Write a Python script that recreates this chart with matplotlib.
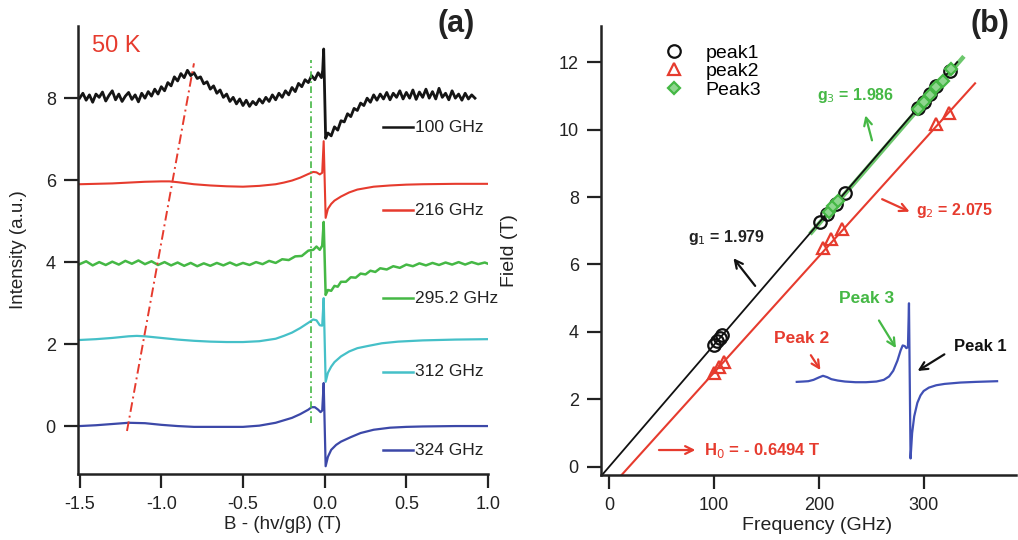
import matplotlib
matplotlib.use("Agg")
import matplotlib.pyplot as plt
import numpy as np

plt.rcParams['font.family'] = ['Liberation Sans', 'DejaVu Sans']

# ---------------- Panel (a) data: EPR spectra at 50 K ----------------
x100 = [-1.50, -1.48, -1.46, -1.44, -1.42, -1.40, -1.38, -1.36, -1.34, -1.32, -1.30, -1.28, -1.26, -1.24,
        -1.22, -1.20, -1.18, -1.16, -1.14, -1.12, -1.10, -1.08, -1.06, -1.04, -1.02, -1.00, -0.98, -0.96,
        -0.94, -0.92, -0.90, -0.88, -0.86, -0.84, -0.82, -0.80, -0.78, -0.76, -0.74, -0.72, -0.70, -0.68,
        -0.66, -0.64, -0.62, -0.60, -0.58, -0.56, -0.54, -0.52, -0.50, -0.48, -0.46, -0.44, -0.42, -0.40,
        -0.38, -0.36, -0.34, -0.32, -0.30, -0.28, -0.26, -0.24, -0.22, -0.20, -0.18, -0.16, -0.14, -0.12,
        -0.10, -0.08, -0.06, -0.04, -0.02, -0.012, -0.006, 0.006, 0.02, 0.04, 0.06, 0.08, 0.10, 0.12,
        0.14, 0.16, 0.18, 0.20, 0.22, 0.24, 0.26, 0.28, 0.30, 0.32, 0.34, 0.36, 0.38, 0.40, 0.42, 0.44,
        0.46, 0.48, 0.50, 0.52, 0.54, 0.56, 0.58, 0.60, 0.62, 0.64, 0.66, 0.68, 0.70, 0.72, 0.74, 0.76,
        0.78, 0.80, 0.82, 0.84, 0.86, 0.88, 0.90, 0.92]
y100 = [8.00, 8.12, 7.95, 8.08, 7.90, 8.10, 8.02, 8.15, 7.93, 8.07, 8.18, 7.96, 8.10, 7.92,
        8.05, 8.14, 7.97, 8.08, 7.91, 8.12, 8.00, 8.16, 8.05, 8.22, 8.10, 8.28, 8.18, 8.38,
        8.30, 8.52, 8.42, 8.60, 8.50, 8.68, 8.55, 8.62, 8.48, 8.52, 8.35, 8.40, 8.22, 8.30,
        8.12, 8.20, 8.02, 8.10, 7.92, 8.02, 7.86, 7.98, 7.82, 7.95, 7.80, 7.92, 7.84, 7.98,
        7.88, 8.02, 7.92, 8.08, 7.96, 8.12, 8.02, 8.18, 8.08, 8.26, 8.16, 8.36, 8.28, 8.45,
        8.38, 8.55, 8.45, 8.62, 8.50, 8.68, 9.20, 7.02, 7.15, 7.08, 7.30, 7.22, 7.45, 7.42,
        7.62, 7.55, 7.75, 7.70, 7.88, 7.82, 8.00, 7.90, 8.08, 7.95, 8.10, 7.98, 8.14, 7.96, 8.12, 8.02,
        8.18, 7.98, 8.14, 8.00, 8.20, 7.97, 8.15, 8.02, 8.22, 8.00, 8.16, 7.98, 8.24, 8.02, 8.12, 7.96,
        8.18, 8.00, 8.10, 7.95, 8.12, 7.98, 8.08, 8.00]

x216 = [-1.5, -1.4, -1.3, -1.2, -1.1, -1.0, -0.95, -0.9, -0.8, -0.7, -0.6, -0.5, -0.4, -0.3, -0.25,
        -0.2, -0.15, -0.1, -0.07, -0.05, -0.03, -0.015, -0.006, 0.006, 0.02, 0.04, 0.06, 0.1, 0.15,
        0.2, 0.3, 0.4, 0.5, 0.6, 0.8, 1.0]
y216 = [5.90, 5.91, 5.92, 5.94, 5.96, 5.97, 5.97, 5.95, 5.90, 5.87, 5.85, 5.84, 5.86, 5.90, 5.94,
        5.99, 6.06, 6.15, 6.20, 6.19, 6.14, 6.18, 6.95, 5.08, 5.30, 5.42, 5.50, 5.60, 5.70,
        5.77, 5.84, 5.87, 5.89, 5.90, 5.91, 5.91]

x295 = [-1.50, -1.46, -1.42, -1.38, -1.34, -1.30, -1.26, -1.22, -1.18, -1.14, -1.10, -1.06, -1.02,
        -0.98, -0.94, -0.90, -0.86, -0.82, -0.78, -0.74, -0.70, -0.66, -0.62, -0.58, -0.54, -0.50,
        -0.46, -0.42, -0.38, -0.34, -0.30, -0.26, -0.22, -0.18, -0.14, -0.10, -0.07, -0.05, -0.03,
        -0.015, -0.006, 0.006, 0.02, 0.04, 0.06, 0.08, 0.10, 0.13, 0.16, 0.19, 0.22, 0.25, 0.28,
        0.31, 0.34, 0.38, 0.42, 0.46, 0.50, 0.54, 0.58, 0.62, 0.66, 0.70, 0.74, 0.78, 0.82, 0.86,
        0.90, 0.94, 0.98, 1.00]
y295 = [3.95, 4.02, 3.92, 4.00, 3.93, 4.01, 3.94, 4.03, 3.96, 4.04, 3.95, 4.02, 3.93,
        4.00, 3.92, 3.99, 3.91, 3.98, 3.90, 3.97, 3.91, 3.98, 3.92, 3.99, 3.92, 3.98,
        3.93, 4.00, 3.95, 4.03, 3.98, 4.07, 4.05, 4.14, 4.15, 4.28, 4.30, 4.38, 4.30,
        4.40, 4.98, 3.20, 3.32, 3.30, 3.42, 3.40, 3.52, 3.52, 3.63, 3.62, 3.72, 3.70, 3.79,
        3.76, 3.85, 3.82, 3.90, 3.86, 3.94, 3.90, 3.97, 3.92, 3.98, 3.93, 3.99, 3.94, 4.00, 3.94,
        4.00, 3.95, 3.99, 3.96]

x312 = [-1.5, -1.4, -1.3, -1.2, -1.15, -1.1, -1.0, -0.9, -0.8, -0.7, -0.6, -0.5, -0.4, -0.3, -0.25,
        -0.2, -0.15, -0.1, -0.07, -0.05, -0.03, -0.015, -0.006, 0.006, 0.02, 0.04, 0.06, 0.1, 0.15,
        0.2, 0.26, 0.35, 0.45, 0.6, 0.8, 1.0]
y312 = [2.10, 2.12, 2.15, 2.19, 2.20, 2.19, 2.15, 2.11, 2.08, 2.06, 2.05, 2.05, 2.07, 2.13, 2.20,
        2.28, 2.39, 2.52, 2.60, 2.58, 2.46, 2.45, 3.12, 1.08, 1.30, 1.45, 1.56, 1.70, 1.82,
        1.90, 1.95, 2.02, 2.06, 2.09, 2.11, 2.12]

x324 = [-1.5, -1.4, -1.3, -1.2, -1.1, -1.0, -0.9, -0.8, -0.7, -0.6, -0.5, -0.4, -0.3, -0.25, -0.2,
        -0.15, -0.1, -0.08, -0.06, -0.04, -0.025, -0.015, -0.006, 0.006, 0.02, 0.04, 0.07, 0.1, 0.16,
        0.22, 0.3, 0.4, 0.5, 0.6, 0.8, 1.0]
y324 = [0.00, 0.02, 0.05, 0.08, 0.07, 0.03, 0.00, -0.02, -0.02, -0.02, -0.02, 0.01, 0.08, 0.14, 0.20,
        0.29, 0.40, 0.46, 0.46, 0.40, 0.34, 0.38, 1.05, -0.98, -0.75, -0.58, -0.46, -0.38, -0.27,
        -0.17, -0.09, -0.04, -0.02, -0.01, 0.00, 0.00]

spectra_labels = ["100 GHz", "216 GHz", "295.2 GHz", "312 GHz", "324 GHz"]
spectra_colors = ["#151515", "#e63b2e", "#45b845", "#45c0c8", "#3c48a8"]
label_y = [7.29, 5.27, 3.12, 1.32, -0.59]

# guide lines (a)
red_guide_x = [-1.21, -0.80]
red_guide_y = [-0.12, 8.85]
green_guide_x = [-0.085, -0.085]
green_guide_y = [0.07, 8.93]

# ---------------- Panel (b) data: frequency vs field ----------------
p1_f = [100, 103, 106, 108, 201, 208, 216, 225, 295, 300, 306, 312, 325]
p1_B = [3.61, 3.72, 3.83, 3.92, 7.26, 7.51, 7.80, 8.12, 10.65, 10.83, 11.05, 11.28, 11.75]
p2_f = [100, 105, 110, 204, 212, 222, 312, 324]
p2_B = [2.79, 2.97, 3.12, 6.48, 6.76, 7.04, 10.15, 10.50]
p3_f = [210, 214, 218, 295, 300, 306, 312, 318, 326]
p3_B = [7.55, 7.72, 7.88, 10.62, 10.82, 11.02, 11.25, 11.45, 11.78]

fit1_f = [-8, 332]
fit1_B = [-0.29, 12.0]
fit2_f = [12, 349]
fit2_B = [-0.24, 11.37]
fit3_f = [193, 337]
fit3_B = [6.95, 12.12]

inset_f = [179, 185, 190, 195, 200, 204, 208, 212, 218, 225, 235, 245, 255, 262, 267, 271, 275, 278,
           280, 282, 283.5, 285, 286, 287.5, 289, 291, 294, 297, 300, 305, 312, 320, 335, 350, 370]
inset_B = [2.52, 2.53, 2.54, 2.58, 2.65, 2.70, 2.66, 2.60, 2.56, 2.53, 2.51, 2.51, 2.53, 2.58, 2.68,
           2.85, 3.15, 3.45, 3.60, 3.58, 3.52, 3.55, 4.85, 0.25, 1.00, 1.50, 1.90, 2.12, 2.25, 2.35,
           2.42, 2.46, 2.50, 2.52, 2.54]

# ---------------- Figure ----------------
fig = plt.figure(figsize=(10.18, 5.4), dpi=100)
axa = fig.add_axes([0.0766, 0.1222, 0.4028, 0.8296])
axb = fig.add_axes([0.5904, 0.1204, 0.4076, 0.8315])

RED = "#e63b2e"
GREEN = "#45b845"
DARK = "#222222"

def style(ax):
    for s in ['top', 'right']:
        ax.spines[s].set_visible(False)
    for s in ['left', 'bottom']:
        ax.spines[s].set_linewidth(1.8)
        ax.spines[s].set_color(DARK)
    ax.tick_params(direction='out', length=10, width=1.6, labelsize=13, colors=DARK, pad=6)

# ---- panel (a)
style(axa)
xs = [x100, x216, x295, x312, x324]
ys = [y100, y216, y295, y312, y324]
lws = [2.0, 1.5, 1.8, 1.6, 1.6]
for x, y, c, lw in zip(xs, ys, spectra_colors, lws):
    axa.plot(x, y, color=c, lw=lw)
axa.plot(red_guide_x, red_guide_y, color=RED, lw=1.4, ls=(0, (5, 2, 1, 2)))
axa.plot(green_guide_x, green_guide_y, color=GREEN, lw=1.2, ls=(0, (4, 2, 1, 2)))
for lab, c, yl in zip(spectra_labels, spectra_colors, label_y):
    axa.plot([0.355, 0.54], [yl, yl], color=c, lw=1.8)
    axa.text(0.55, yl, lab, color=DARK, fontsize=12.5, va='center', ha='left')
axa.set_xlim(-1.51, 1.0)
axa.set_ylim(-1.17, 9.76)
axa.set_xticks([-1.5, -1.0, -0.5, 0.0, 0.5, 1.0])
axa.set_xticklabels(["-1.5", "-1.0", "-0.5", "0.0", "0.5", "1.0"])
axa.set_yticks([0, 2, 4, 6, 8])
axa.set_xlabel("B - (hv/gβ) (T)", fontsize=13.5, color=DARK)
axa.xaxis.set_label_coords(0.5, -0.094)
axa.set_ylabel("Intensity (a.u.)", fontsize=13.5, color=DARK)
axa.yaxis.set_label_coords(-0.125, 0.5)
axa.text(0.035, 0.955, "50 K", color=RED, fontsize=17, transform=axa.transAxes, va='center', ha='left')
fig.text(0.4665, 0.955, "(a)", fontsize=22, fontweight='bold', ha='right', va='center', color=DARK)

# ---- panel (b)
style(axb)
axb.plot(fit3_f, fit3_B, color="#5cc15c", lw=3.2, alpha=0.9)
axb.plot(fit1_f, fit1_B, color='#111111', lw=1.3)
axb.plot(fit2_f, fit2_B, color=RED, lw=1.5)
axb.plot(p1_f, p1_B, ls='none', marker='o', ms=9, mfc='none', mec='#111111', mew=1.6, label='peak1')
axb.plot(p2_f, p2_B, ls='none', marker='^', ms=8, mfc='none', mec=RED, mew=1.6, label='peak2')
axb.plot(p3_f, p3_B, ls='none', marker='D', ms=6, mfc='#8fd68f', mec=GREEN, mew=1.6, label='Peak3')
axb.plot(inset_f, inset_B, color="#4050b5", lw=1.6)

axb.set_xlim(-7.6, 388)
axb.set_ylim(-0.24, 13.07)
axb.set_xticks([0, 100, 200, 300])
axb.set_yticks([0, 2, 4, 6, 8, 10, 12])
axb.set_xlabel("Frequency (GHz)", fontsize=14, color=DARK)
axb.xaxis.set_label_coords(0.52, -0.094)
axb.set_ylabel("Field (T)", fontsize=14, color=DARK)
axb.yaxis.set_label_coords(-0.2, 0.5)

leg = axb.legend(loc='upper left', bbox_to_anchor=(0.12, 0.99), frameon=False, fontsize=14,
                 handlelength=1.0, handletextpad=1.1, labelspacing=0.05, borderpad=0.2)

fig.text(0.992, 0.955, "(b)", fontsize=22, fontweight='bold', ha='right', va='center', color=DARK)

def arrow(ax, x0, y0, x1, y1, c, lw=1.6):
    ax.annotate("", xy=(x1, y1), xytext=(x0, y0),
                arrowprops=dict(arrowstyle='->', color=c, lw=lw, mutation_scale=14))

axb.text(235, 11.02, "g$_3$ = 1.986", color=GREEN, fontsize=11.5, fontweight='bold', ha='center', va='center')
arrow(axb, 251.4, 9.6, 243.8, 10.5, GREEN)
axb.text(293, 7.61, "g$_2$ = 2.075", color=RED, fontsize=11.5, fontweight='bold', ha='left', va='center')
arrow(axb, 258, 7.97, 289, 7.53, RED)
axb.text(75, 6.79, "g$_1$ = 1.979", color=DARK, fontsize=11.5, fontweight='bold', ha='left', va='center')
arrow(axb, 141, 5.3, 117, 6.25, '#111111')
axb.text(91, 0.5, "H$_0$ = - 0.6494 T", color=RED, fontsize=12, fontweight='bold', ha='left', va='center')
arrow(axb, 45, 0.5, 85, 0.5, RED)
axb.text(246, 5.0, "Peak 3", color=GREEN, fontsize=12.5, fontweight='bold', ha='center', va='center')
arrow(axb, 256, 4.41, 275, 3.45, GREEN)
axb.text(184, 3.82, "Peak 2", color=RED, fontsize=12.5, fontweight='bold', ha='center', va='center')
arrow(axb, 191, 3.38, 203, 2.8, RED)
axb.text(329, 3.56, "Peak 1", color='#111111', fontsize=12, fontweight='bold', ha='left', va='center')
arrow(axb, 322, 3.38, 292, 2.8, '#111111')

fig.savefig("out.png", dpi=100)
